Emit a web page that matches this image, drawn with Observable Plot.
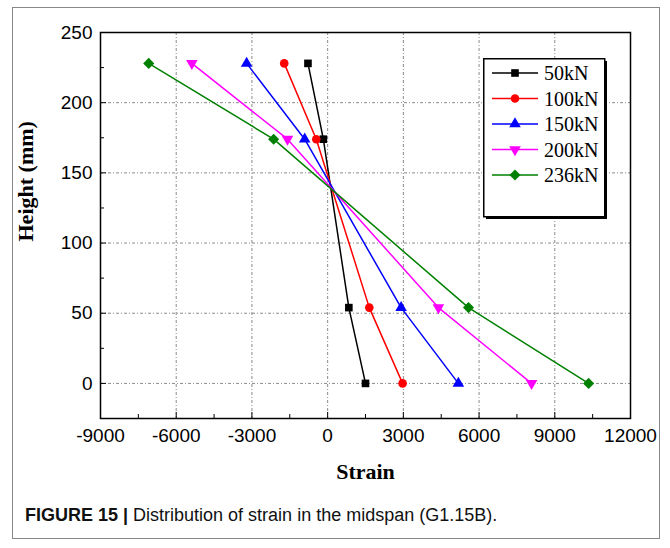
<!DOCTYPE html>
<html>
<head>
<meta charset="utf-8">
<script src="https://cdn.jsdelivr.net/npm/d3@7"></script>
<script src="https://cdn.jsdelivr.net/npm/@observablehq/plot@0.6"></script>
<style>
  html, body { margin: 0; padding: 0; background: #fff; }
  #wrap { position: relative; width: 670px; height: 548px; overflow: hidden; background: #fff; }
  #border { position: absolute; left: 12px; top: 7px; width: 648px; height: 532px; border: 1px solid #888; box-sizing: border-box; }
  #chart { position: absolute; left: 0; top: 0; }
  #legend { position: absolute; left: 483px; top: 58px; }
  #caption { position: absolute; left: 25px; top: 506px; font-family: "Liberation Sans", Arial, sans-serif; font-size: 18px; line-height: 1; color: #111; white-space: nowrap; }
</style>
</head>
<body>
<div id="wrap">
  <div id="border"></div>
  <div id="chart"></div>
  <div id="legend"></div>
  <div id="caption"><b>FIGURE 15 |</b> Distribution of strain in the midspan (G1.15B).</div>
</div>
<script>
// ---- data ----
const heights = [228, 174, 54, 0];
const loads = ["50kN", "100kN", "150kN", "200kN", "236kN"];
const strain50  = [-780, -170, 840, 1500];
const strain100 = [-1720, -450, 1650, 2970];
const strain150 = [-3210, -910, 2910, 5180];
const strain200 = [-5380, -1590, 4390, 8080];
const strain236 = [-7090, -2140, 5580, 10340];
const xTicks = [-9000, -6000, -3000, 0, 3000, 6000, 9000, 12000];
const xMinor = [-7500, -4500, -1500, 1500, 4500, 7500, 10500];
const yTicks = [0, 50, 100, 150, 200, 250];
const yMinor = [25, 75, 125, 175, 225];

// ---- styling ----
const colors = ["#000000", "#ff0000", "#0000ff", "#ff00ff", "#008000"];
const symbols = ["square", "circle", "triangle", "triangle", "diamond2"];
const rotations = [0, 0, 0, 180, 0];
const radii = [4.3, 4.3, 4.3, 4.3, 5.0];

const strains = [strain50, strain100, strain150, strain200, strain236];
const series = loads.map((load, i) => heights.map((h, j) => ({load, height: h, strain: strains[i][j]})));

const W = 670, H = 500, mL = 100, mR = 40, mT = 32, mB = 82;
const fw = W - mL - mR, fh = H - mT - mB;

const gridStyle = {stroke: "#8a8a8a", strokeOpacity: 1, strokeWidth: 1, strokeDasharray: "3,2,1,2"};

const marks = [
  Plot.gridX(xTicks.slice(1, -1), gridStyle),
  Plot.gridY(yTicks.slice(0, -1), gridStyle),
  Plot.tickX(xMinor, {x: d => d, insetTop: fh - 4, stroke: "#000"}),
  Plot.tickX(xTicks, {x: d => d, insetTop: fh - 6, stroke: "#000"}),
  Plot.tickY(yMinor, {y: d => d, insetRight: fw - 4, stroke: "#000"}),
  Plot.tickY(yTicks, {y: d => d, insetRight: fw - 6, stroke: "#000"}),
  Plot.axisX({ticks: xTicks, tickSize: 0, tickPadding: 10, tickFormat: d => String(d), label: null, fontSize: 19}),
  Plot.axisY({ticks: yTicks, tickSize: 0, tickPadding: 8, tickFormat: d => String(d), label: null, fontSize: 19}),
  Plot.text(["Strain"], {frameAnchor: "bottom", dy: 60, fontWeight: "bold", fontSize: 22, fontFamily: "Liberation Serif, Times New Roman, serif", fill: "#000"}),
  Plot.text(["Height (mm)"], {frameAnchor: "left", dx: -75, dy: 16, rotate: -90, fontWeight: "bold", fontSize: 22, fontFamily: "Liberation Serif, Times New Roman, serif", fill: "#000"})
];
series.forEach((data, i) => {
  marks.push(Plot.line(data, {x: "strain", y: "height", stroke: colors[i], strokeWidth: 1.5}));
  marks.push(Plot.dot(data, {x: "strain", y: "height", symbol: symbols[i], r: radii[i], fill: colors[i], stroke: "none", rotate: rotations[i]}));
});
marks.push(Plot.frame({stroke: "#000", strokeWidth: 1.5}));

const chart = Plot.plot({
  width: W, height: H,
  marginLeft: mL, marginRight: mR, marginTop: mT, marginBottom: mB,
  x: {domain: [-9000, 12000]},
  y: {domain: [-25, 250]},
  style: {fontFamily: "Liberation Sans, Arial, sans-serif", fontSize: "19px", color: "#000", background: "transparent", overflow: "visible"},
  marks
});
document.getElementById("chart").appendChild(chart);

// ---- legend ----
const lw = 121, lh = 158;
const lsvg = d3.select("#legend").append("svg").attr("width", lw + 5).attr("height", lh + 5);
lsvg.append("rect").attr("x", 3).attr("y", 3).attr("width", lw).attr("height", lh).attr("fill", "#000");
lsvg.append("rect").attr("x", 0.75).attr("y", 0.75).attr("width", lw).attr("height", lh).attr("fill", "#fff").attr("stroke", "#000").attr("stroke-width", 1.5);
const symMap = {square: d3.symbolSquare, circle: d3.symbolCircle, triangle: d3.symbolTriangle, diamond2: d3.symbolDiamond2};
loads.forEach((load, i) => {
  const cy = 15 + i * 25.5;
  const g = lsvg.append("g").attr("transform", `translate(0,${cy})`);
  g.append("line").attr("x1", 9).attr("x2", 55).attr("y1", 0).attr("y2", 0).attr("stroke", colors[i]).attr("stroke-width", 1.5);
  g.append("path").attr("d", d3.symbol(symMap[symbols[i]], radii[i] * radii[i] * Math.PI)())
    .attr("transform", `translate(32,0) rotate(${rotations[i]})`).attr("fill", colors[i]);
  g.append("text").attr("x", 61).attr("y", 0).attr("dy", "0.35em").text(load)
    .attr("font-family", "Liberation Serif, Times New Roman, serif").attr("font-size", 20).attr("fill", "#000");
});
</script>
</body>
</html>
